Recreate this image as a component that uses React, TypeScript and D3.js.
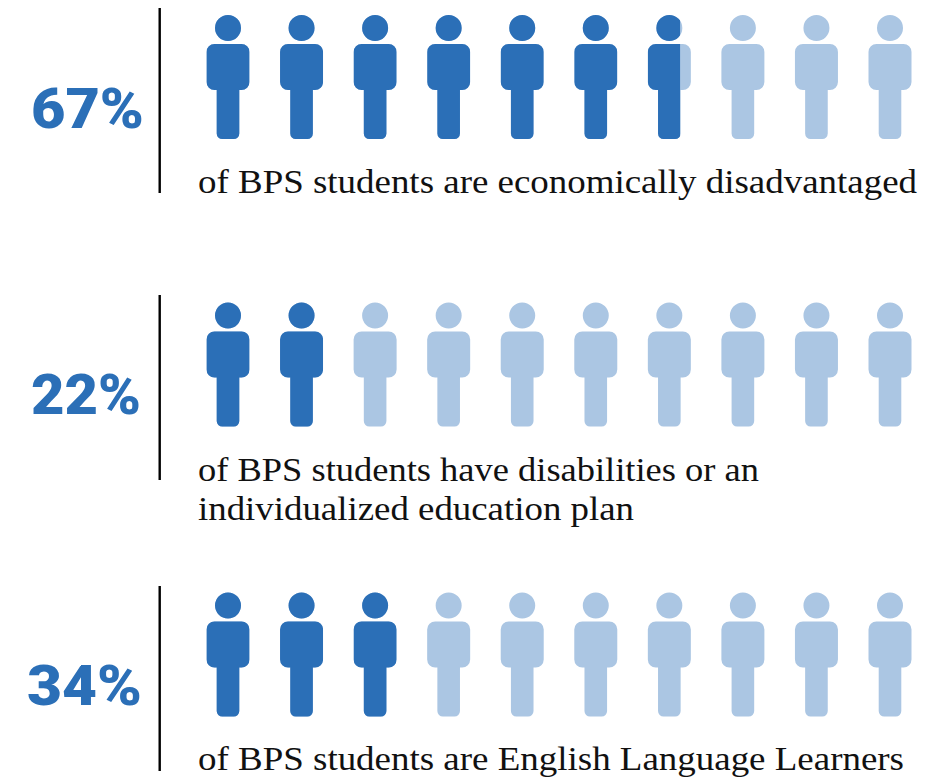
import React from "react";
import * as d3 from "d3";

const percentLabels = ["67%", "22%", "34%"];
const filledUnits = [6.75, 2, 3];
const captionLines = [
  ["of BPS students are economically disadvantaged"],
  ["of BPS students have disabilities or an", "individualized education plan"],
  ["of BPS students are English Language Learners"],
];
const units = d3.range(10);
const DARK = "#2B6FB7";
const LIGHT = "#ABC6E3";

const x = d3.scaleLinear().domain([0, 9]).range([228, 890]);
const rowTop = [15, 302.5, 592.5];
const lineTop = [8, 295, 586];
const pctLeft = [31, 31, 27];
const pctRight = [144, 141, 142];
const pctBase = [127.5, 413.5, 704.5];
const captionBase = [193, 481, 770];
const captionW = [[719], [561, 436], [706]];

function person(cx: number, top: number) {
  const p = d3.path();
  const hw = 21.5, lw = 11.3, r = 8, lr = 5.5;
  const bt = top + 29, bb = top + 75, end = top + 124;
  p.moveTo(cx - hw + r, bt);
  p.lineTo(cx + hw - r, bt);
  p.arcTo(cx + hw, bt, cx + hw, bt + r, r);
  p.lineTo(cx + hw, bb - r);
  p.arcTo(cx + hw, bb, cx + hw - r, bb, r);
  p.lineTo(cx + lw, bb);
  p.lineTo(cx + lw, end - lr);
  p.arcTo(cx + lw, end, cx + lw - lr, end, lr);
  p.lineTo(cx - lw + lr, end);
  p.arcTo(cx - lw, end, cx - lw, end - lr, lr);
  p.lineTo(cx - lw, bb);
  p.lineTo(cx - hw + r, bb);
  p.arcTo(cx - hw, bb, cx - hw, bb - r, r);
  p.lineTo(cx - hw, bt + r);
  p.arcTo(cx - hw, bt, cx - hw + r, bt, r);
  p.closePath();
  p.moveTo(cx + 13, top + 13);
  p.arc(cx, top + 13, 13, 0, Math.PI * 2);
  p.closePath();
  return p.toString();
}

export default function App() {
  return (
    <svg width={938} height={778} style={{ position: "absolute", left: 0, top: 0, background: "#fff" }}>
      <defs>
        {percentLabels.map((_, r) =>
          units.map((u) => {
            const frac = Math.max(0, Math.min(1, filledUnits[r] - u));
            return (
              <clipPath id={`c${r}-${u}`} key={u}>
                <rect x={x(u) - 21.5} y={0} width={43 * frac} height={778} />
              </clipPath>
            );
          })
        )}
      </defs>
      {percentLabels.map((label, r) => (
        <g key={label}>
          <rect x={158.5} y={lineTop[r]} width={2.4} height={185} fill="#000" />
          <text x={pctLeft[r]} y={pctBase[r]} fontFamily="Roboto" fontWeight={900} fontSize={55} fill={DARK}
            textLength={pctRight[r] - pctLeft[r]} lengthAdjust="spacingAndGlyphs">
            {label}
          </text>
          {units.map((u) => (
            <g key={u}>
              <path d={person(x(u), rowTop[r])} fill={LIGHT} />
              <path d={person(x(u), rowTop[r])} fill={DARK} clipPath={`url(#c${r}-${u})`} />
            </g>
          ))}
          {captionLines[r].map((t, i) => (
            <text key={t} x={198} y={captionBase[r] + i * 39} fontFamily="Liberation Serif" fontSize={33}
              fill="#111" textLength={captionW[r][i]} lengthAdjust="spacingAndGlyphs">
              {t}
            </text>
          ))}
        </g>
      ))}
    </svg>
  );
}
